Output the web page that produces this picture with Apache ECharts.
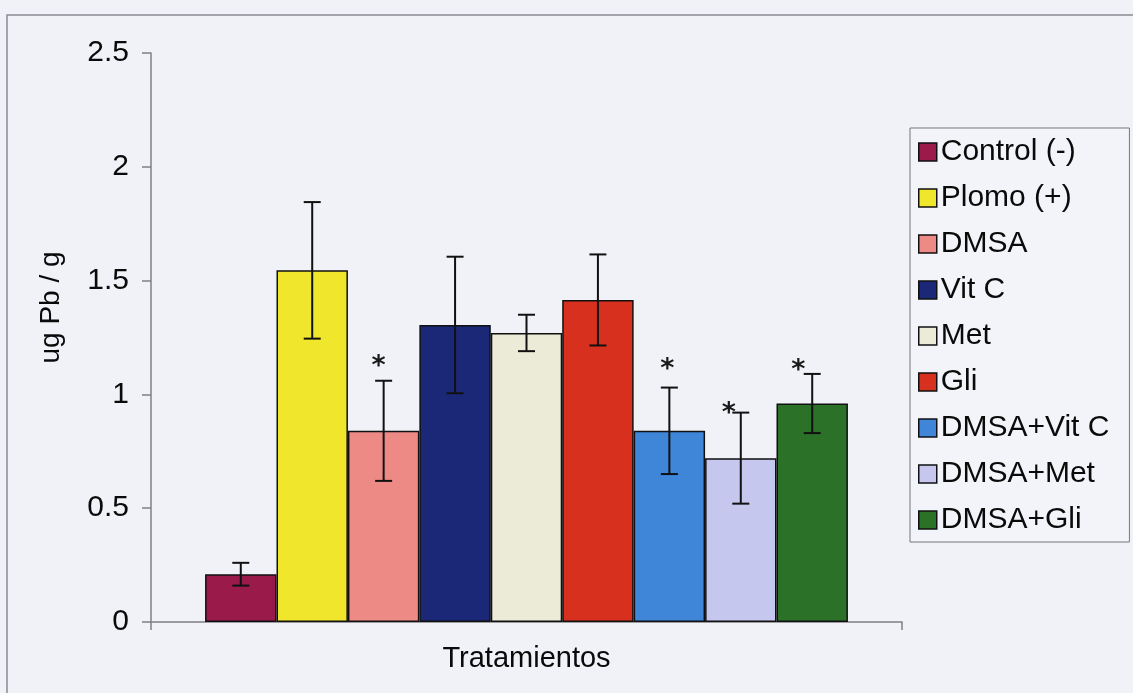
<!DOCTYPE html>
<html>
<head>
<meta charset="utf-8">
<script src="https://cdn.jsdelivr.net/npm/echarts@6/dist/echarts.min.js"></script>
<style>
  html, body { margin: 0; padding: 0; background: #f0f2f8; }
  #chart-container { width: 1133px; height: 693px; }
</style>
</head>
<body>
<div id="chart-container"></div>
<script>
const categories = ['Tratamientos'];
const treatments = ['Control (-)', 'Plomo (+)', 'DMSA', 'Vit C', 'Met', 'Gli',
  'DMSA+Vit C', 'DMSA+Met', 'DMSA+Gli'];
const means = [0.21, 1.545, 0.84, 1.305, 1.27, 1.415, 0.84, 0.72, 0.96];
const errors = [0.05, 0.30, 0.22, 0.30, 0.08, 0.20, 0.19, 0.20, 0.13];
// asterisk = significant vs Plomo (+), placed at these values
const starValues = [null, null, 1.12, null, null, null, 1.106, 0.916, 1.102];
const yTicks = [0, 0.5, 1, 1.5, 2, 2.5];

const colors = ['#9a1a49', '#f0e62c', '#ee8a86', '#1b2878', '#ecebd8',
  '#d8301f', '#3f86d8', '#c6c7ee', '#2c7128'];
const starShift = [0, 0, -5, 0, 0, 0, -2, -12, -14];
const CATEGORY_GAP = 0.144;
const FONT = '"Liberation Sans", Arial, sans-serif';

function init() {
  let series = treatments.map((name, i) => ({
    name,
    type: 'bar',
    barGap: '0%',
    barCategoryGap: CATEGORY_GAP * 100 + '%',
    itemStyle: {
      color: colors[i],
      borderColor: '#111',
      borderWidth: 1.5,
    },
    data: [means[i]],
  }));

  series.push({
    type: 'custom',
    name: 'error',
    z: 10,
    renderItem: function (params, api) {
      let i = api.value(4);
      let n = treatments.length;
      let center = api.coord([0, api.value(1)]);
      let band = api.size([1, 0])[0];
      let bw = (band * (1 - CATEGORY_GAP)) / n;
      let x = center[0] + (i - (n - 1) / 2) * bw;
      let top = api.coord([0, api.value(3)])[1];
      let bot = api.coord([0, api.value(2)])[1];
      let cap = 8.5;
      let style = { stroke: '#111', lineWidth: 2 };
      let children = [
        { type: 'line', shape: { x1: x, y1: top, x2: x, y2: bot }, style },
        { type: 'line', shape: { x1: x - cap, y1: top, x2: x + cap, y2: top }, style },
        { type: 'line', shape: { x1: x - cap, y1: bot, x2: x + cap, y2: bot }, style },
      ];
      let sv = starValues[params.dataIndex];
      if (sv != null) {
        let sy = api.coord([0, sv])[1];
        children.push({
          type: 'text',
          style: {
            text: '*',
            x: x + starShift[i],
            y: sy,
            align: 'center',
            verticalAlign: 'middle',
            font: 'bold 27px "DejaVu Sans", sans-serif',
            fill: '#1a1a1a',
          },
        });
      }
      return { type: 'group', children };
    },
    data: means.map((m, i) => [0, m, m - errors[i], m + errors[i], i]),
  });

  let option = {
    animation: false,
    backgroundColor: '#f0f2f8',
    textStyle: { fontFamily: FONT },
    graphic: [
      {
        type: 'rect',
        shape: { x: 7, y: 15, width: 1140, height: 700 },
        style: { fill: 'none', stroke: '#8a8c92', lineWidth: 1.5 },
        silent: true,
        z: -10,
      },
    ],
    grid: { left: 151, right: 231, top: 53, bottom: 71 },
    legend: {
      data: treatments,
      orient: 'vertical',
      left: 910,
      top: 128,
      itemWidth: 18,
      itemHeight: 18,
      itemGap: 16,
      icon: 'rect',
      padding: [9, 20, 7, 8],
      borderColor: '#777',
      borderWidth: 1,
      backgroundColor: '#f2f4f9',
      itemStyle: { borderColor: '#111', borderWidth: 1.5 },
      textStyle: { fontSize: 30, color: '#0a0a0a', fontFamily: FONT, padding: [0, 0, 0, -1] },
    },
    xAxis: {
      type: 'category',
      data: categories,
      name: 'Tratamientos',
      nameLocation: 'middle',
      nameGap: 22,
      nameTextStyle: { fontSize: 29, color: '#0a0a0a', fontFamily: FONT, verticalAlign: 'top' },
      axisLine: { lineStyle: { color: '#808080', width: 1.5 } },
      axisTick: { show: true, length: 8, lineStyle: { color: '#808080', width: 1.5 } },
      axisLabel: { show: false },
    },
    yAxis: {
      type: 'value',
      min: yTicks[0],
      max: yTicks[yTicks.length - 1],
      interval: 0.5,
      name: 'ug Pb / g',
      nameLocation: 'middle',
      nameGap: 86,
      nameTextStyle: { fontSize: 28, color: '#0a0a0a', fontFamily: FONT, padding: [0, 0, 0, 60] },
      axisLine: { show: true, lineStyle: { color: '#808080', width: 1.5 } },
      axisTick: { show: true, length: 9, lineStyle: { color: '#808080', width: 1.5 } },
      splitLine: { show: false },
      axisLabel: { fontSize: 30, color: '#0a0a0a', margin: 22, fontFamily: FONT },
    },
    series,
  };

  var myChart = echarts.init(document.getElementById('chart-container'));
  myChart.setOption(option);
}
init();
</script>
</body>
</html>
